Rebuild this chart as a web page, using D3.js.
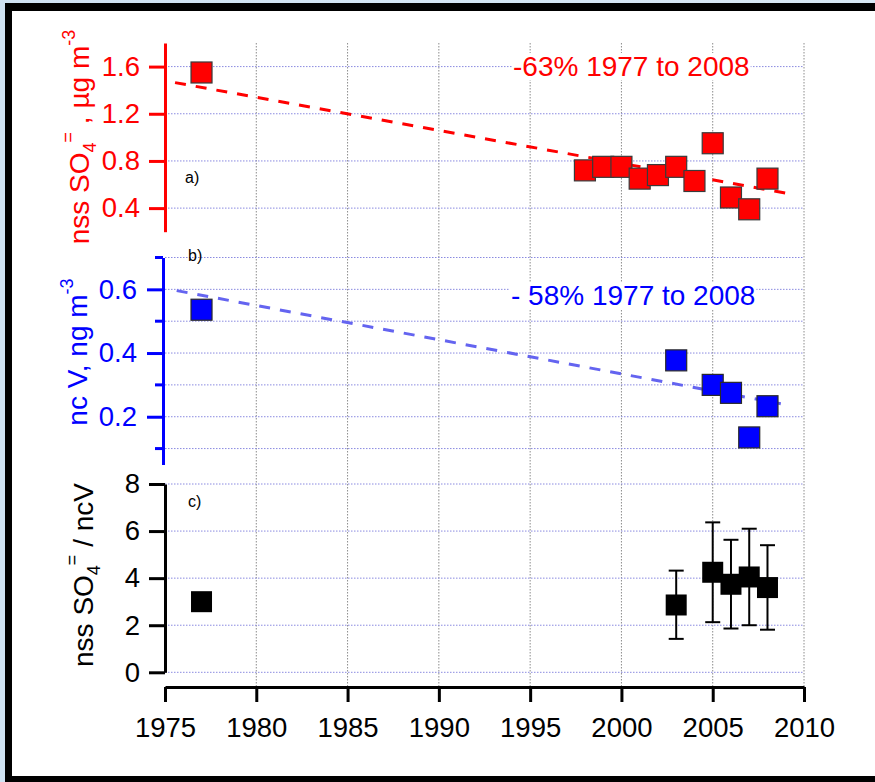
<!DOCTYPE html>
<html>
<head>
<meta charset="utf-8">
<script src="https://cdn.jsdelivr.net/npm/d3@7"></script>
<style>
  html, body { margin: 0; padding: 0; background: #ffffff; }
  svg { display: block; font-family: "Liberation Sans", Arial, sans-serif; }
</style>
</head>
<body>
<svg id="chart" width="875" height="782"></svg>
<script>
// ---- data ----
const sulfateYears  = [1977, 1998, 1999, 2000, 2001, 2002, 2003, 2004, 2005, 2006, 2007, 2008];
const sulfateValues = [1.55, 0.72, 0.75, 0.75, 0.65, 0.68, 0.75, 0.63, 0.95, 0.49, 0.39, 0.65];
const sulfateTrendYears  = [1975.55, 2009.3];
const sulfateTrendValues = [1.464, 0.519];

const vanadiumYears  = [1977, 2003, 2005, 2006, 2007, 2008];
const vanadiumValues = [0.536, 0.377, 0.300, 0.275, 0.135, 0.233];
const vanadiumTrendYears  = [1975.64, 2008.73];
const vanadiumTrendValues = [0.596, 0.241];

const ratioYears   = [1977, 2003, 2005, 2006, 2007, 2008];
const ratioValues  = [3.0, 2.86, 4.25, 3.74, 4.05, 3.6];
const ratioErrLow  = [null, 1.42, 2.13, 1.86, 2.0, 1.81];
const ratioErrHigh = [null, 4.32, 6.37, 5.63, 6.10, 5.40];

const yearTicks      = [1975, 1980, 1985, 1990, 1995, 2000, 2005, 2010];
const sulfateTicks   = [0.4, 0.8, 1.2, 1.6];
const vanadiumMajor  = [0.2, 0.4, 0.6];
const vanadiumMinor  = [0.1, 0.3, 0.5, 0.7];
const ratioTicks     = [0, 2, 4, 6, 8];

// ---- colours ----
const RED = "#ff0000", BLUE = "#0000ff", TREND_BLUE = "#6464f0";
const HGRID = "#8a8ae0", VGRID = "#8c8c8c";

const svg = d3.select("#chart");

// frame / page background
const bg = svg.append("defs").append("linearGradient")
  .attr("id", "pageBg").attr("x1", 0).attr("y1", 0).attr("x2", 1).attr("y2", 0);
bg.append("stop").attr("offset", "0%").attr("stop-color", "#cfe2f2");
bg.append("stop").attr("offset", "100%").attr("stop-color", "#d8e8f5");
svg.append("rect").attr("width", 875).attr("height", 782).attr("fill", "url(#pageBg)");
svg.append("rect").attr("x", 5).attr("y", 3).attr("width", 875).attr("height", 782).attr("fill", "#000");
svg.append("rect").attr("x", 12).attr("y", 11).attr("width", 870).attr("height", 765).attr("fill", "#fff");

// ---- scales ----
const x  = d3.scaleLinear().domain([1975, 2010]).range([165, 804]);
const ya = d3.scaleLinear().domain([0.2, 1.8]).range([231.7, 43]);
const yb = d3.scaleLinear().domain([0.05, 0.7]).range([464.5, 257.5]);
const yc = d3.scaleLinear().domain([0, 8]).range([672.3, 484]);

// ---- grid ----
const grid = svg.append("g");
grid.selectAll("line.v").data(yearTicks.filter(d => d > 1975)).join("line")
  .attr("x1", d => x(d)).attr("x2", d => x(d))
  .attr("y1", 43).attr("y2", 687)
  .attr("stroke", VGRID).attr("stroke-width", 1).attr("stroke-dasharray", "1.5,1.5");

function hgrid(scale, values) {
  grid.append("g").selectAll("line").data(values).join("line")
    .attr("x1", x.range()[0]).attr("x2", x.range()[1])
    .attr("y1", d => scale(d)).attr("y2", d => scale(d))
    .attr("stroke", HGRID).attr("stroke-width", 1).attr("stroke-dasharray", "1.5,1.5");
}
hgrid(ya, sulfateTicks);
hgrid(yb, vanadiumMajor.concat(vanadiumMinor));
hgrid(yc, ratioTicks);

// ---- trend lines ----
function trend(scale, years, values, color) {
  svg.append("path")
    .datum(d3.zip(years, values))
    .attr("d", d3.line().x(d => x(d[0])).y(d => scale(d[1])))
    .attr("fill", "none").attr("stroke", color).attr("stroke-width", 3)
    .attr("stroke-dasharray", "11,10");
}
trend(ya, sulfateTrendYears, sulfateTrendValues, RED);
trend(yb, vanadiumTrendYears, vanadiumTrendValues, TREND_BLUE);

// ---- error bars (panel c) ----
const eb = svg.append("g").attr("stroke", "#000").attr("stroke-width", 2);
ratioYears.forEach((yr, i) => {
  if (ratioErrLow[i] == null) return;
  const cx = x(yr);
  eb.append("line").attr("x1", cx).attr("x2", cx).attr("y1", yc(ratioErrLow[i])).attr("y2", yc(ratioErrHigh[i]));
  [ratioErrLow[i], ratioErrHigh[i]].forEach(v => {
    eb.append("line").attr("x1", cx - 7.5).attr("x2", cx + 7.5).attr("y1", yc(v)).attr("y2", yc(v));
  });
});

// ---- markers ----
const S = 21;
function squares(scale, years, values, fill, stroke) {
  svg.append("g").selectAll("rect").data(d3.zip(years, values)).join("rect")
    .attr("x", d => x(d[0]) - S / 2).attr("y", d => scale(d[1]) - S / 2)
    .attr("width", S).attr("height", S)
    .attr("fill", fill).attr("stroke", stroke).attr("stroke-width", stroke === "none" ? 0 : 1.2);
}
squares(ya, sulfateYears, sulfateValues, RED, "#3a3a3a");
squares(yb, vanadiumYears, vanadiumValues, BLUE, "#2a2a2a");
squares(yc, ratioYears, ratioValues, "#000", "none");

// ---- axes ----
function styleAxis(g, color) {
  g.selectAll("path, line").attr("stroke", color).attr("stroke-width", 3);
  g.selectAll("text").attr("fill", color).attr("font-size", 27.5)
    .attr("font-family", "'Liberation Sans', Arial, sans-serif");
}

const axA = svg.append("g").attr("transform", "translate(165,0)")
  .call(d3.axisLeft(ya).tickValues(sulfateTicks).tickFormat(d3.format(".1f"))
    .tickSize(16).tickSizeOuter(0).tickPadding(9));
styleAxis(axA, RED);

const axB = svg.append("g").attr("transform", "translate(163,0)")
  .call(d3.axisLeft(yb).tickValues(vanadiumMajor).tickFormat(d3.format(".1f"))
    .tickSize(16).tickSizeOuter(0).tickPadding(10));
axB.selectAll(".minor").data(vanadiumMinor).join("line").attr("class", "minor")
  .attr("x1", -8).attr("x2", 0).attr("y1", d => yb(d)).attr("y2", d => yb(d));
styleAxis(axB, BLUE);

const axC = svg.append("g").attr("transform", "translate(165,0)")
  .call(d3.axisLeft(yc).tickValues(ratioTicks).tickSize(16).tickSizeOuter(0).tickPadding(9));
styleAxis(axC, "#000");

const axX = svg.append("g").attr("transform", "translate(0,687)")
  .call(d3.axisBottom(x).tickValues(yearTicks).tickFormat(d3.format("d"))
    .tickSize(15).tickSizeOuter(0).tickPadding(15));
styleAxis(axX, "#000");

// ---- axis titles ----
function yTitle(cx, cy, color, parts) {
  const t = svg.append("text")
    .attr("transform", `translate(${cx},${cy}) rotate(-90)`)
    .attr("text-anchor", "middle").attr("fill", color).attr("font-size", 28);
  parts.forEach(p => {
    const s = t.append("tspan").text(p.t);
    if (p.size) s.attr("font-size", p.size);
    if (p.dy) s.attr("dy", p.dy);
  });
}
yTitle(89, 137, RED, [
  { t: "nss SO" }, { t: "4", size: 18, dy: 7 }, { t: "=", size: 18, dy: -22 },
  { t: " , µg m", dy: 15 }, { t: "-3", size: 18, dy: -14 }
]);
yTitle(87, 352, BLUE, [
  { t: "nc V, ng m" }, { t: "-3", size: 18, dy: -14 }
]);
yTitle(93, 575, "#000", [
  { t: "nss SO" }, { t: "4", size: 18, dy: 7 }, { t: "=", size: 18, dy: -22 },
  { t: " / ncV", dy: 15 }
]);

// ---- panel letters ----
[["a)", 185, 183], ["b)", 188, 261], ["c)", 188, 507]].forEach(([s, px, py]) => {
  svg.append("text").attr("x", px).attr("y", py).attr("font-size", 16).attr("fill", "#000").text(s);
});

// ---- trend annotations ----
function note(px, py, color, s) {
  const t = svg.append("text").attr("x", px).attr("y", py)
    .attr("font-size", 28).attr("fill", color).text(s);
  const b = t.node().getBBox();
  svg.insert("rect", () => t.node())
    .attr("x", b.x - 1).attr("y", b.y + 2).attr("width", b.width + 2).attr("height", b.height - 4)
    .attr("fill", "#fff");
}
note(513, 76, RED, "-63% 1977 to 2008");
note(511, 305, BLUE, "- 58% 1977 to 2008");
</script>
</body>
</html>
